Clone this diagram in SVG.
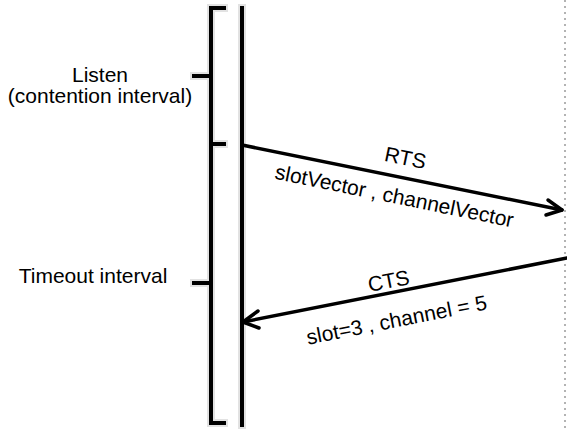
<svg xmlns="http://www.w3.org/2000/svg" width="567" height="429" viewBox="0 0 567 429">
  <style>
    .bg { fill: #ffffff; }
    .halo { fill: none; stroke: #e2e2e2; stroke-width: 8; stroke-linecap: square; }
    .ink { fill: none; stroke: #000000; stroke-width: 4; stroke-linecap: square; stroke-linejoin: miter; }
    .msg { fill: none; stroke: #000000; stroke-width: 3.5; stroke-linecap: round; }
    .head { fill: none; stroke: #000000; stroke-width: 3.5; stroke-linecap: round; stroke-linejoin: round; }
    .peer { fill: none; stroke: #9a9a9a; stroke-width: 1.5; stroke-dasharray: 2 4; }
    .label { font-family: "Liberation Sans", Arial, sans-serif; font-size: 21px; fill: #000000; }
  </style>

  <rect class="bg" x="0" y="0" width="567" height="429"/>

  <!-- soft scan shadow under the heavy strokes -->
  <g id="stroke-shadow">
    <path class="halo" d="M224,8 H211 V423 H224 M211,144 H224 M211,76 H194 M211,283 H194"/>
    <line class="halo" x1="242" y1="8" x2="242" y2="425"/>
  </g>

  <!-- interval brackets -->
  <g id="listen-interval">
    <path class="ink" d="M224,8 H211 V144 H224 M211,76 H194"/>
    <text class="label" x="100" y="82" text-anchor="middle">Listen</text>
    <text class="label" x="100" y="103" text-anchor="middle">(contention interval)</text>
  </g>

  <g id="timeout-interval">
    <path class="ink" d="M211,144 V423 H224 M211,283 H194"/>
    <text class="label" x="93" y="283" text-anchor="middle">Timeout interval</text>
  </g>

  <!-- station timelines -->
  <g id="sender-timeline">
    <line class="ink" x1="242" y1="8" x2="242" y2="425"/>
  </g>

  <g id="receiver-timeline">
    <line class="peer" x1="565" y1="0" x2="565" y2="429"/>
  </g>

  <!-- messages -->
  <g id="connectors">
    <g id="rts">
      <line class="msg" x1="242" y1="145" x2="562" y2="210"/>
      <path class="head" d="M548,200 L562,210 L546,215"/>
    </g>
    <g id="cts">
      <line class="msg" x1="567" y1="258" x2="243" y2="322"/>
      <path class="head" d="M258,311 L243,322 L259,328"/>
    </g>
  </g>

  <g id="rts-labels">
    <text class="label" text-anchor="middle" transform="translate(404,165) rotate(11.6)">RTS</text>
    <text class="label" text-anchor="middle" transform="translate(393,203) rotate(11.6)">slotVector , channelVector</text>
  </g>

  <g id="cts-labels">
    <text class="label" text-anchor="middle" transform="translate(390,288) rotate(-11.1)">CTS</text>
    <text class="label" text-anchor="middle" transform="translate(398,327) rotate(-11.1)">slot=3 , channel = 5</text>
  </g>
</svg>
